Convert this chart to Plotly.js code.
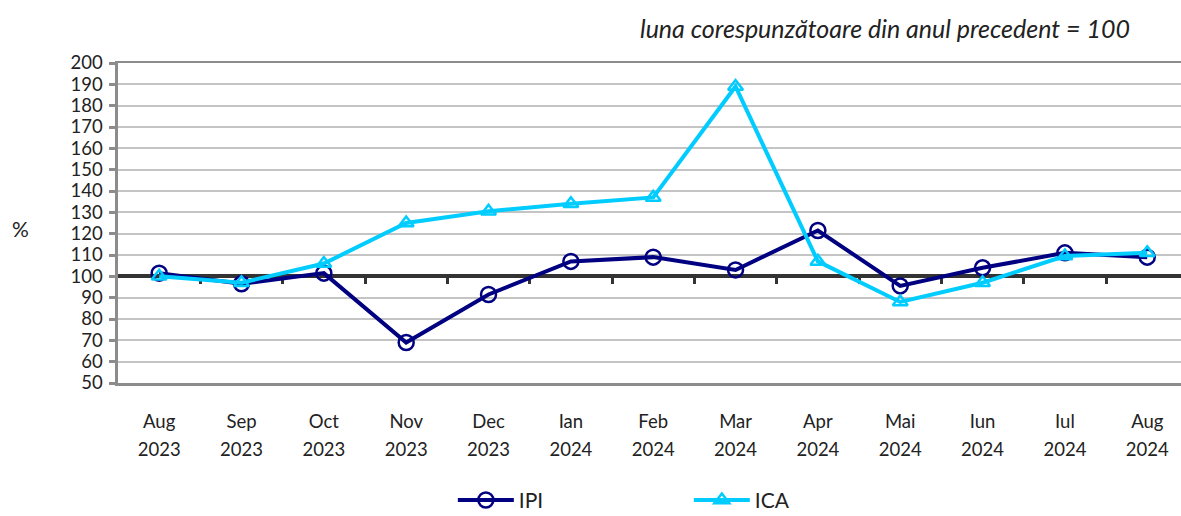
<!DOCTYPE html>
<html>
<head>
<meta charset="utf-8">
<script src="https://cdn.plot.ly/plotly-3.0.1.min.js"></script>
<style>
  html, body { margin: 0; padding: 0; background: #fff; }
  #chart { width: 1181px; height: 516px; }
</style>
</head>
<body>
<div id="chart"></div>
<script>
// Monthly indices, same month of previous year = 100
const months = ['Aug', 'Sep', 'Oct', 'Nov', 'Dec', 'Ian', 'Feb', 'Mar', 'Apr', 'Mai', 'Iun', 'Iul', 'Aug'];
const years = ['2023', '2023', '2023', '2023', '2023', '2024', '2024', '2024', '2024', '2024', '2024', '2024', '2024'];
const ipiValues = [101.5, 96.5, 101.5, 69, 91.5, 107, 109, 103, 121.5, 95.5, 104, 111, 109];
const icaValues = [100, 97, 106, 125, 130.5, 134, 137, 189, 107, 88, 97, 109.5, 111];

const idx = months.map((_, i) => i);
const boundaries = idx.slice(0, -1).map(i => i + 0.5);

const FONT = 'Lato, "Open Sans", sans-serif';
const xRange = [-0.5, 12.41];

// invisible helper trace so the overlay axes get drawn
function helper(axis) {
    return {
        x: idx, y: ipiValues, xaxis: axis, yaxis: 'y',
        type: 'scatter', mode: 'lines', opacity: 0,
        line: { width: 0 }, showlegend: false, hoverinfo: 'skip'
    };
}

const data = [helper('x2'), helper('x3'), {
    x: idx,
    y: ipiValues,
    name: 'IPI',
    type: 'scatter',
    mode: 'lines+markers',
    line: { color: '#000080', width: 4 },
    marker: { symbol: 'circle-open', size: 15, color: '#000080', line: { width: 2.5, color: '#000080' } }
}, {
    x: idx,
    y: icaValues,
    name: 'ICA',
    type: 'scatter',
    mode: 'lines+markers',
    line: { color: '#00ccff', width: 4 },
    marker: { symbol: 'triangle-up-open', size: 13, color: '#00ccff', line: { width: 2.5, color: '#00ccff' } }
}];

const layout = {
    width: 1181,
    height: 516,
    margin: { l: 118, r: 0, t: 63, b: 133 },
    paper_bgcolor: '#fff',
    plot_bgcolor: '#fff',
    font: { family: FONT, size: 18.5, color: '#222' },
    showlegend: true,
    legend: {
        orientation: 'h',
        x: 0.315,
        xanchor: 'left',
        yref: 'container',
        y: 0.07,
        yanchor: 'top',
        itemwidth: 56,
        entrywidth: 165,
        font: { family: FONT, size: 21, color: '#222' }
    },
    xaxis: {
        range: xRange,
        tickvals: idx,
        ticktext: months,
        ticks: '',
        showgrid: false,
        zeroline: false,
        showline: true,
        mirror: true,
        linecolor: '#8c8c8c',
        linewidth: 2.5,
        automargin: false,
        ticklabelstandoff: 20,
        tickfont: { family: FONT, size: 18.5, color: '#222' }
    },
    xaxis2: {
        // the years under the month names
        overlaying: 'x',
        anchor: 'y',
        side: 'bottom',
        range: xRange,
        tickvals: idx,
        ticktext: years,
        ticks: '',
        showgrid: false,
        zeroline: false,
        showline: false,
        automargin: false,
        ticklabelstandoff: 53,
        tickfont: { family: FONT, size: 18.5, color: '#222' }
    },
    xaxis3: {
        // reference line at 100 with ticks at category boundaries
        overlaying: 'x',
        anchor: 'free',
        position: 1 / 3,
        side: 'bottom',
        range: xRange,
        tickvals: boundaries,
        ticks: 'outside',
        ticklen: 6,
        tickwidth: 3,
        tickcolor: '#333',
        showticklabels: false,
        showgrid: false,
        zeroline: false,
        showline: true,
        linecolor: '#333',
        linewidth: 4,
        automargin: false,
        layer: 'below traces'
    },
    yaxis: {
        range: [50, 200],
        dtick: 10,
        ticks: 'outside',
        ticklen: 6,
        tickwidth: 3,
        tickcolor: '#8c8c8c',
        showline: true,
        linecolor: '#8c8c8c',
        linewidth: 3.5,
        showgrid: true,
        gridcolor: '#c4c4c4',
        gridwidth: 2,
        zeroline: false,
        automargin: false,
        ticklabelstandoff: 2,
        tickfont: { family: FONT, size: 18.5, color: '#222' }
    },
    annotations: [{
        text: 'luna corespunzătoare din anul precedent = 100',
        xref: 'paper', yref: 'paper',
        x: 0.954, y: 1.11,
        xanchor: 'right', yanchor: 'middle',
        showarrow: false,
        font: { family: FONT, size: 25, style: 'italic', color: '#222' }
    }, {
        text: '%',
        xref: 'paper', yref: 'paper',
        x: -0.092, y: 0.484,
        xanchor: 'center', yanchor: 'middle',
        showarrow: false,
        font: { family: FONT, size: 21, color: '#222' }
    }]
};

Plotly.newPlot('chart', data, layout, { displayModeBar: false, staticPlot: true });
</script>
</body>
</html>
